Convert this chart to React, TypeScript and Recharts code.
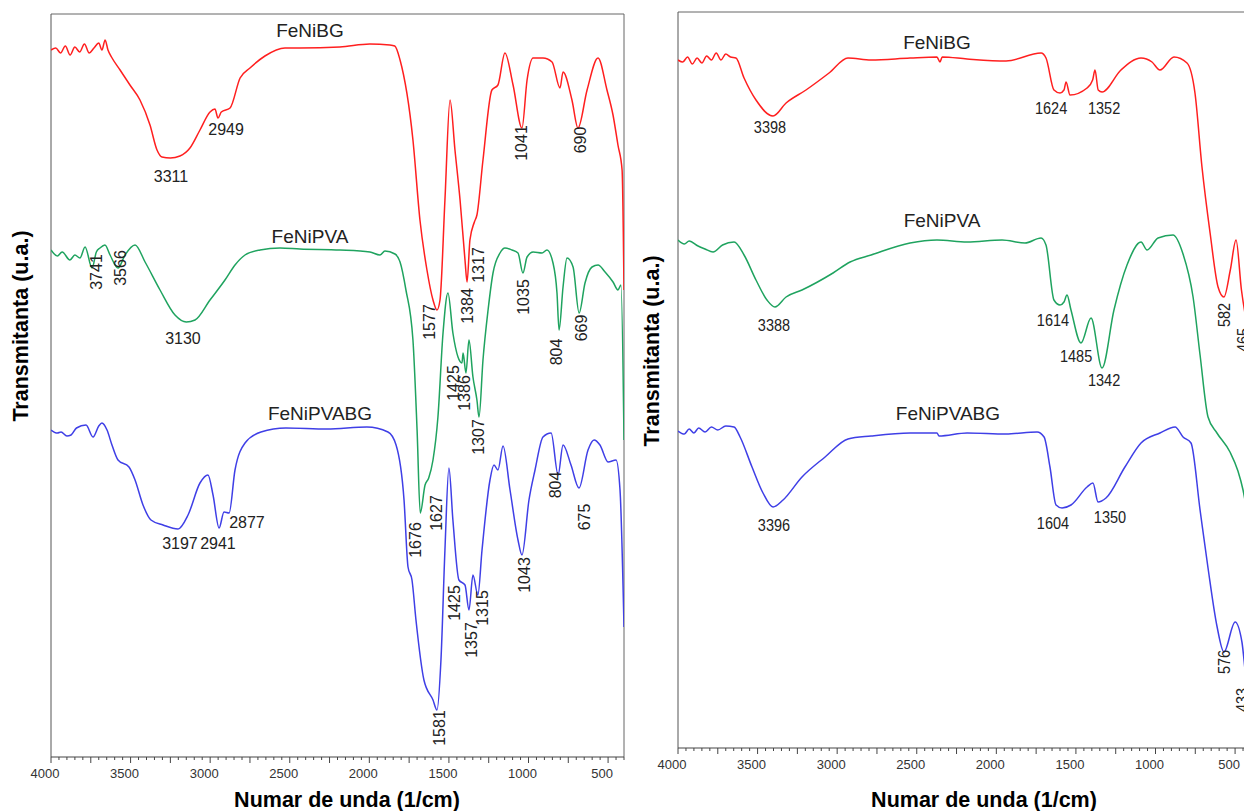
import React from 'react';
import { LineChart, Line, XAxis, YAxis, ReferenceLine, ReferenceDot } from 'recharts';

// [wavenumber (1/cm), transmittance (a.u.)]
const leftFeNiBG = [
  [4000, 70.7], [3970, 70.9], [3940, 70.4], [3910, 71.1], [3880, 70.2], [3850, 71.0], [3820, 70.5],
  [3790, 71.3], [3760, 70.4], [3730, 70.9], [3700, 71.4], [3680, 70.7], [3660, 71.7], [3642, 70.7],
  [3620, 70.0], [3566, 68.7], [3504, 67.2], [3441, 65.7], [3378, 63.2], [3334, 60.7], [3303, 60.0],
  [3250, 59.9], [3190, 60.1], [3127, 60.9], [3064, 62.7], [3001, 64.5], [2970, 64.8], [2951, 63.9],
  [2930, 64.5], [2875, 64.9], [2812, 67.9], [2750, 68.9], [2656, 70.1], [2530, 70.9], [2436, 70.9],
  [2185, 71.0], [1997, 71.3], [1871, 71.2], [1840, 71.1], [1807, 69.7], [1726, 61.7], [1682, 53.7],
  [1638, 48.7], [1600, 45.7], [1575, 44.7], [1556, 45.7], [1525, 55.7], [1493, 65.7], [1462, 60.7],
  [1430, 55.7], [1399, 49.7], [1386, 47.5], [1368, 51.7], [1340, 53.5], [1324, 54.2], [1286, 59.7],
  [1230, 66.7], [1192, 67.2], [1148, 70.4], [1097, 67.2], [1041, 62.9], [1009, 67.7], [971, 69.9],
  [909, 69.9], [852, 69.5], [802, 66.9], [783, 68.5], [727, 65.7], [689, 62.9], [632, 66.7],
  [563, 69.9], [507, 66.7], [469, 64.2], [438, 61.2], [412, 58.7], [400, 46.7],
];
const leftFeNiPVA = [
  [4000, 50.7], [3960, 50.1], [3930, 50.5], [3881, 49.7], [3850, 50.2], [3818, 49.9], [3786, 51.0],
  [3742, 48.9], [3715, 50.5], [3692, 50.9], [3661, 51.2], [3629, 50.2], [3579, 48.9], [3535, 50.2],
  [3472, 51.2], [3409, 49.5], [3315, 46.7], [3221, 44.2], [3150, 43.5], [3095, 43.7], [3001, 45.7],
  [2907, 47.7], [2844, 49.2], [2781, 50.2], [2687, 50.7], [2561, 50.9], [2436, 50.8], [2184, 50.7],
  [1996, 50.5], [1933, 50.2], [1902, 50.6], [1839, 50.3], [1807, 49.5], [1770, 46.7], [1726, 41.7],
  [1700, 32.7], [1680, 24.4], [1650, 27.2], [1627, 27.9], [1600, 29.7], [1569, 34.0], [1537, 42.4],
  [1506, 46.4], [1475, 42.4], [1443, 40.0], [1418, 39.4], [1411, 40.4], [1393, 38.4], [1374, 41.7],
  [1349, 38.0], [1324, 35.7], [1311, 34.0], [1286, 39.7], [1254, 44.7], [1223, 48.4], [1179, 50.4],
  [1148, 50.9], [1104, 50.7], [1066, 50.4], [1035, 48.4], [1009, 50.0], [971, 50.5], [915, 50.4],
  [884, 50.7], [846, 49.4], [821, 46.4], [808, 42.7], [783, 47.0], [758, 49.9], [720, 49.0],
  [682, 44.4], [645, 47.4], [601, 49.0], [563, 49.2], [519, 48.5], [469, 47.5], [438, 46.7],
  [419, 47.2], [400, 31.7],
];
const leftFeNiPVABG = [
  [4000, 32.7], [3960, 32.4], [3937, 32.5], [3900, 32.1], [3874, 32.2], [3840, 32.9], [3780, 33.2],
  [3736, 32.0], [3700, 33.1], [3680, 33.4], [3648, 32.7], [3617, 31.2], [3579, 29.7], [3510, 29.0],
  [3472, 27.7], [3422, 25.2], [3372, 23.7], [3296, 23.2], [3202, 22.8], [3139, 24.2], [3064, 27.4],
  [3014, 28.2], [2982, 26.2], [2944, 22.9], [2913, 24.5], [2881, 24.4], [2844, 28.7], [2781, 31.4],
  [2681, 32.5], [2524, 32.9], [2266, 32.8], [2015, 33.0], [1883, 32.5], [1832, 31.2], [1782, 25.7],
  [1757, 19.0], [1732, 17.7], [1707, 13.7], [1657, 7.7], [1600, 5.7], [1575, 4.7], [1550, 9.7],
  [1525, 20.7], [1500, 28.9], [1475, 23.7], [1437, 17.7], [1399, 17.2], [1374, 14.7], [1349, 18.2],
  [1318, 16.2], [1292, 20.7], [1242, 27.7], [1217, 29.2], [1192, 28.7], [1160, 31.1], [1116, 26.7],
  [1066, 21.7], [1041, 20.2], [997, 25.7], [959, 28.7], [909, 32.0], [858, 32.4], [814, 28.2],
  [783, 31.2], [733, 29.2], [683, 26.9], [626, 30.7], [588, 31.7], [551, 31.2], [500, 29.5],
  [450, 29.7], [425, 26.7], [400, 13.0],
];

const rightFeNiBG = [
  [4000, 68.8], [3970, 68.6], [3940, 69.1], [3910, 68.4], [3880, 69.0], [3850, 68.5], [3820, 69.2],
  [3790, 68.8], [3760, 69.5], [3730, 68.8], [3700, 69.4], [3670, 69.1], [3636, 69.0], [3585, 67.0],
  [3510, 64.8], [3403, 63.2], [3321, 64.5], [3196, 65.8], [3051, 67.5], [2932, 69.0], [2787, 68.8],
  [2542, 69.0], [2373, 69.1], [2354, 68.6], [2340, 69.1], [2184, 68.9], [1939, 68.7], [1719, 69.5],
  [1688, 69.0], [1638, 65.8], [1600, 65.5], [1575, 65.8], [1562, 66.6], [1537, 65.3], [1430, 66.0],
  [1395, 66.8], [1380, 67.8], [1360, 65.8], [1336, 65.6], [1217, 67.8], [1091, 69.0], [1022, 68.6],
  [972, 67.8], [884, 69.1], [802, 68.5], [752, 65.5], [708, 58.1], [657, 51.5], [607, 46.1],
  [570, 45.1], [530, 47.8], [494, 50.8], [460, 45.8], [430, 42.8], [400, 40.8],
];
const rightFeNiPVA = [
  [4000, 50.8], [3960, 50.4], [3930, 50.7], [3874, 50.2], [3830, 49.9], [3780, 49.6], [3720, 50.3],
  [3648, 50.6], [3585, 49.3], [3510, 46.8], [3441, 44.8], [3391, 44.1], [3321, 45.1], [3221, 45.8],
  [3026, 47.5], [2919, 48.6], [2787, 49.3], [2542, 50.5], [2373, 50.8], [2184, 50.6], [1964, 50.8],
  [1820, 50.5], [1719, 51.0], [1688, 50.3], [1638, 44.8], [1600, 44.3], [1575, 44.6], [1556, 45.3],
  [1531, 43.8], [1468, 40.5], [1405, 43.0], [1336, 38.0], [1261, 43.8], [1179, 48.3], [1091, 50.6],
  [1053, 49.8], [984, 51.0], [890, 51.3], [827, 49.4], [764, 45.1], [720, 39.3], [670, 33.1],
  [614, 31.5], [532, 29.6], [482, 27.7], [450, 25.8], [400, 20.8],
];
const rightFeNiPVABG = [
  [4000, 31.7], [3960, 31.4], [3930, 31.9], [3900, 31.5], [3870, 32.0], [3830, 31.6], [3790, 32.1],
  [3750, 31.8], [3700, 32.2], [3648, 32.1], [3610, 31.1], [3535, 28.1], [3466, 25.5], [3403, 24.1],
  [3340, 24.8], [3221, 27.1], [3076, 29.1], [2932, 30.9], [2787, 31.2], [2542, 31.5], [2373, 31.5],
  [2360, 31.2], [2184, 31.5], [1939, 31.4], [1744, 31.6], [1700, 31.1], [1663, 28.1], [1625, 24.3],
  [1587, 24.0], [1531, 24.3], [1430, 26.1], [1393, 26.5], [1361, 24.6], [1311, 25.0], [1192, 28.1],
  [1091, 30.5], [972, 31.5], [877, 32.1], [827, 31.1], [777, 30.5], [720, 23.8], [670, 18.0],
  [614, 12.2], [570, 9.6], [500, 12.6], [457, 10.6], [430, 6.8], [400, 4.8],
];

const xTickLabels = [4000, 3500, 3000, 2500, 2000, 1500, 1000, 500];
const minorTicks: number[] = [];
for (let v = 4000; v >= 400; v -= 50) minorTicks.push(v);

// [text, wavenumber, transmittance, rotated]
const leftNotes: [string, number, number, boolean][] = [
  ['3311', 3246, 58.1, false], ['2949', 2900, 62.8, false], ['1041', 1041, 61.4, true], ['690', 676, 61.7, true],
  ['3741', 3717, 48.5, true], ['3566', 3566, 48.9, true], ['3130', 3171, 41.9, false], ['1577', 1619, 43.5, true],
  ['1384', 1386, 45.1, true], ['1317', 1311, 49.2, true], ['1035', 1034, 46.0, true], ['804', 827, 40.5, true],
  ['669', 670, 42.9, true], ['1425', 1474, 37.4, true], ['1386', 1399, 36.4, true], ['1307', 1311, 32.0, true],
  ['1676', 1707, 21.7, true], ['1627', 1581, 24.4, true], ['3197', 3190, 21.4, false], ['2941', 2951, 21.4, false],
  ['2877', 2769, 23.5, false], ['1043', 1028, 18.2, true], ['804', 833, 27.2, true], ['675', 651, 24.0, true],
  ['1425', 1462, 15.4, true], ['1357', 1361, 11.7, true], ['1315', 1292, 14.9, true], ['1581', 1562, 2.9, true],
];
const rightNotes: [string, number, number, boolean][] = [
  ['3398', 3422, 62.1, false], ['1624', 1656, 64.0, false], ['1352', 1323, 64.0, false],
  ['3388', 3397, 42.3, false], ['1614', 1644, 42.8, false], ['1485', 1499, 39.2, false], ['1342', 1323, 36.8, false],
  ['582', 569, 43.3, true], ['465', 450, 40.8, true],
  ['3396', 3397, 22.3, false], ['1604', 1644, 22.5, false], ['1350', 1286, 23.1, false],
  ['576', 569, 8.6, true], ['433', 456, 4.8, true],
];
// [name, wavenumber, transmittance]
const leftNames: [string, number, number][] = [['FeNiBG', 2373, 72.7], ['FeNiPVA', 2373, 52.1], ['FeNiPVABG', 2310, 34.4]];
const rightNames: [string, number, number][] = [['FeNiBG', 2373, 70.6], ['FeNiPVA', 2341, 52.8], ['FeNiPVABG', 2304, 33.5]];

const RED = '#ff1f1f';
const GREEN = '#1fa35f';
const BLUE = '#3f3fe6';
const FONT = "'Liberation Sans', Arial, sans-serif";

const toPts = (rows: number[][]) => rows.map(([wn, t]) => ({ wn, t }));

function WnTick({ x, y, payload }: any) {
  const v = payload.value;
  const major = v % 250 === 0;
  return (
    <g>
      <line x1={x} x2={x} y1={y} y2={y + (major ? 6 : 3)} stroke="#444" />
      {xTickLabels.includes(v) && (
        <text x={x - 6} y={y + 21} textAnchor="middle" fontSize={13} fill="#333" fontFamily={FONT}>{v}</text>
      )}
    </g>
  );
}

function Note(props: any) {
  const { viewBox, text, rot, size, family, stretch } = props;
  const cx = viewBox.x + (viewBox.width || 0) / 2;
  const cy = viewBox.y + (viewBox.height || 0) / 2;
  const tf = `${rot ? `rotate(-90 ${cx} ${cy}) ` : ''}translate(${cx} ${cy}) scale(${stretch} 1) translate(${-cx} ${-cy})`;
  return (
    <text x={cx} y={cy} textAnchor="middle" dominantBaseline="central" fontSize={size} fill="#222"
      fontFamily={family} transform={tf}>{text}</text>
  );
}

function Panel({ series, notes, names, top, noteSize, noteStretch, margin }: any) {
  return (
    <LineChart width={640} height={811} margin={margin}>
      <XAxis dataKey="wn" type="number" domain={[400, 4000]} reversed ticks={minorTicks} interval={0}
        tick={<WnTick />} tickLine={false} tickSize={0} tickMargin={0} height={20}
        axisLine={{ stroke: '#444' }} allowDataOverflow />
      <YAxis type="number" domain={[0, top]} width={0} tick={false} tickLine={false}
        axisLine={{ stroke: '#555' }} allowDataOverflow />
      <ReferenceLine y={top} stroke="#666" />
      <ReferenceLine x={400} stroke="#666" />
      <ReferenceLine x={4000} stroke="#555" />
      {series.map(([data, color]: any, i: number) => (
        <Line key={i} data={toPts(data)} dataKey="t" stroke={color} strokeWidth={1.5} dot={false}
          type="monotoneX" isAnimationActive={false} />
      ))}
      {names.map(([name, wn, t]: any, i: number) => (
        <ReferenceDot key={'n' + i} x={wn} y={t} r={0} fill="none" stroke="none"
          label={<Note text={name} rot={false} size={19} family={FONT} stretch={1} />} />
      ))}
      {notes.map(([text, wn, t, rot]: any, i: number) => (
        <ReferenceDot key={'a' + i} x={wn} y={t} r={0} fill="none" stroke="none"
          label={<Note text={text} rot={rot} size={noteSize} family={FONT} stretch={noteStretch} />} />
      ))}
    </LineChart>
  );
}

const titleStyle: React.CSSProperties = {
  position: 'absolute', fontFamily: FONT, fontWeight: 'bold', fontSize: 21.5, color: '#000', whiteSpace: 'nowrap',
};

export default function App() {
  return (
    <div style={{ position: 'fixed', left: 0, top: 0, width: 1244, height: 811, overflow: 'hidden', background: '#fff' }}>
      <div style={{ position: 'absolute', left: 0, top: 0 }}>
        <Panel
          series={[[leftFeNiBG, RED], [leftFeNiPVA, GREEN], [leftFeNiPVABG, BLUE]]}
          notes={leftNotes} names={leftNames} top={74.3} noteSize={16} noteStretch={1}
          margin={{ top: 14, right: 16, bottom: 34, left: 51 }}
        />
      </div>
      <div style={{ position: 'absolute', left: 630, top: 0 }}>
        <Panel
          series={[[rightFeNiBG, RED], [rightFeNiPVA, GREEN], [rightFeNiPVABG, BLUE]]}
          notes={rightNotes} names={rightNames} top={73.6} noteSize={16.5} noteStretch={0.88}
          margin={{ top: 12, right: 19, bottom: 43, left: 48 }}
        />
      </div>
      <div style={{ ...titleStyle, left: 347, top: 788, transform: 'translateX(-50%)' }}>Numar de unda (1/cm)</div>
      <div style={{ ...titleStyle, left: 984, top: 788, transform: 'translateX(-50%)' }}>Numar de unda (1/cm)</div>
      <div style={{ ...titleStyle, left: 21, top: 326, transform: 'translate(-50%, -50%) rotate(-90deg)' }}>Transmitanta (u.a.)</div>
      <div style={{ ...titleStyle, left: 652, top: 351, transform: 'translate(-50%, -50%) rotate(-90deg)' }}>Transmitanta (u.a.)</div>
    </div>
  );
}
